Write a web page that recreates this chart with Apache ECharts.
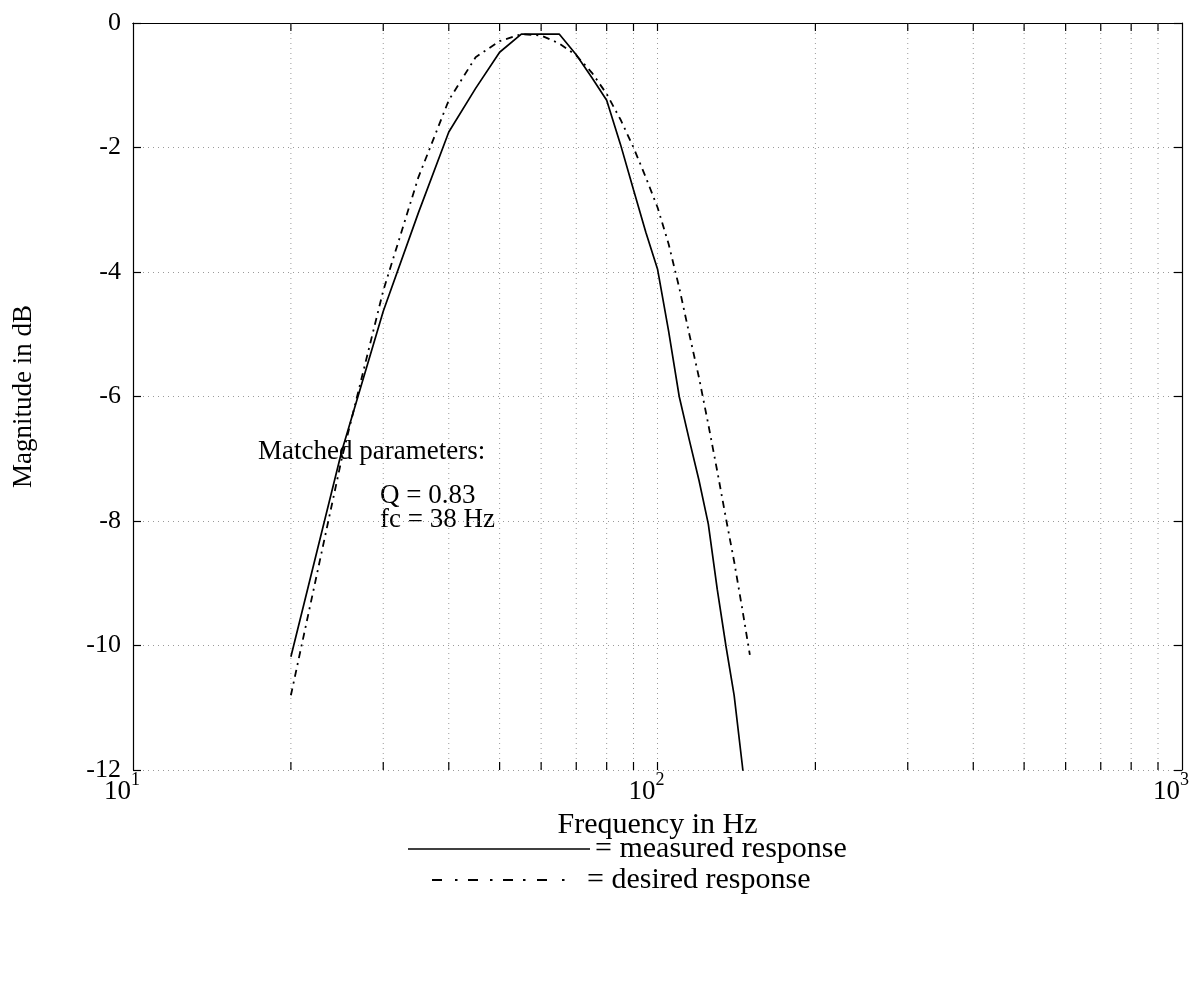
<!DOCTYPE html>
<html>
<head>
<meta charset="utf-8">
<script src="https://cdn.jsdelivr.net/npm/echarts@6.0.0/dist/echarts.min.js"></script>
<style>
  html, body { margin: 0; padding: 0; background: #fff; }
  #chart { width: 1197px; height: 988px; }
</style>
</head>
<body>
<div id="chart"></div>
<script>
// ---- data ----
const freqs = [20, 25, 30, 35, 40, 45, 50, 55, 60, 65, 70, 75, 80, 85, 90, 95, 100, 105, 110, 115, 120, 125, 130, 135, 140, 145, 150];
const measured = [-10.18, -6.88, -4.63, -3.05, -1.75, -1.05, -0.47, -0.18, -0.18, -0.18, -0.51, -0.88, -1.24, -1.95, -2.68, -3.36, -3.95, -4.95, -6.0, -6.7, -7.35, -8.05, -9.1, -10.0, -10.8, -11.9, -13.0];
const desired = [-10.8, -7.0, -4.3, -2.48, -1.24, -0.55, -0.29, -0.18, -0.2, -0.33, -0.52, -0.8, -1.14, -1.55, -2.0, -2.48, -2.96, -3.55, -4.25, -5.0, -5.7, -6.45, -7.2, -7.95, -8.65, -9.4, -10.15];
const xTickFreqs = [20, 30, 40, 50, 60, 70, 80, 90, 100, 200, 300, 400, 500, 600, 700, 800, 900];
const yTicks = [0, -2, -4, -6, -8, -10, -12];
const seriesNames = ['measured response', 'desired response'];

const FONT = 'Liberation Serif';
const gridColor = '#9a9a9a';

// legend sample shapes (dash-dot drawn as small filled rects)
const dashDotIcon = 'path://M0,0h10v2h-10z M23,0h2.5v2h-2.5z M36,0h10v2h-10z M58,0h2.5v2h-2.5z M71,0h10v2h-10z M91,0h2.5v2h-2.5z M105,0h10v2h-10z M130,0h2.5v2h-2.5z M150,0';

const chart = echarts.init(document.getElementById('chart'), null, { renderer: 'canvas' });

const axisBlack = { color: '#000', width: 1.2 };

const option = {
  backgroundColor: '#ffffff',
  animation: false,
  textStyle: { fontFamily: FONT, color: '#000' },
  grid: { left: 133, right: 15, top: 23, bottom: 218, containLabel: false },
  xAxis: [
    {
      type: 'log', logBase: 10, min: 10, max: 1000, position: 'bottom',
      name: 'Frequency in Hz', nameLocation: 'middle', nameGap: 37,
      nameTextStyle: { fontFamily: FONT, fontSize: 30, color: '#000' },
      axisLine: { show: true, lineStyle: axisBlack },
      axisTick: { show: false },
      splitLine: { show: false },
      axisLabel: {
        margin: 1,
        padding: [0, 22, 0, 0],
        formatter: v => '{b|10}{s|' + Math.round(Math.log10(v)) + '}',
        rich: {
          b: { fontFamily: FONT, fontSize: 27, color: '#000', padding: [7, 0, 0, 0] },
          s: { fontFamily: FONT, fontSize: 18, color: '#000', verticalAlign: 'top' }
        }
      }
    },
    {
      type: 'log', logBase: 10, min: 10, max: 1000, position: 'top',
      axisLine: { show: true, lineStyle: axisBlack },
      axisTick: { show: false },
      axisLabel: { show: false },
      splitLine: { show: false }
    }
  ],
  yAxis: [
    {
      type: 'value', min: -12, max: 0, interval: 2, position: 'left',
      name: 'Magnitude in dB', nameLocation: 'middle', nameGap: 96, nameRotate: 90,
      nameTextStyle: { fontFamily: FONT, fontSize: 27, color: '#000' },
      axisLine: { show: true, lineStyle: axisBlack },
      axisTick: { show: true, inside: true, length: 8, lineStyle: axisBlack },
      splitLine: { show: true, lineStyle: { color: gridColor, type: [1, 4], width: 1 } },
      axisLabel: { margin: 12, fontFamily: FONT, fontSize: 26, color: '#000',
        formatter: v => (yTicks.indexOf(v) >= 0 ? String(v) : '') }
    },
    {
      type: 'value', min: -12, max: 0, interval: 2, position: 'right',
      axisLine: { show: true, lineStyle: axisBlack },
      axisTick: { show: true, inside: true, length: 8, lineStyle: axisBlack },
      axisLabel: { show: false },
      splitLine: { show: false }
    }
  ],
  legend: [
    {
      data: [{ name: seriesNames[0], icon: 'rect' }], left: 403, top: 829, orient: 'horizontal',
      itemWidth: 182, itemHeight: 1.5,
      formatter: n => '= ' + n,
      textStyle: { fontFamily: FONT, fontSize: 30, color: '#000' },
      itemStyle: { color: '#000', borderWidth: 0 },
      selectedMode: false
    },
    {
      data: [{ name: seriesNames[1], icon: dashDotIcon }], left: 427, top: 860, orient: 'horizontal',
      itemWidth: 150, itemHeight: 2,
      formatter: n => '= ' + n,
      textStyle: { fontFamily: FONT, fontSize: 30, color: '#000' },
      itemStyle: { color: '#000', borderWidth: 0 },
      selectedMode: false
    }
  ],
  graphic: [
    { type: 'text', left: 258, top: 438, style: { text: 'Matched parameters:', font: '27px "Liberation Serif"', fill: '#000' } },
    { type: 'text', left: 380, top: 482, style: { text: 'Q = 0.83', font: '27px "Liberation Serif"', fill: '#000' } },
    { type: 'text', left: 380, top: 506, style: { text: 'fc = 38 Hz', font: '27px "Liberation Serif"', fill: '#000' } }
  ],
  series: [
    {
      type: 'custom', name: 'x grid and ticks', xAxisIndex: 0, yAxisIndex: 0, silent: true, z: 1,
      data: xTickFreqs.map(f => [f, -6]),
      renderItem: function (params, api) {
        const x = api.coord([api.value(0), -6])[0];
        const cs = params.coordSys;
        return {
          type: 'group',
          children: [
            { type: 'line', shape: { x1: x, y1: cs.y, x2: x, y2: cs.y + cs.height },
              style: { stroke: gridColor, lineWidth: 1, lineDash: [1, 4] } },
            { type: 'line', shape: { x1: x, y1: cs.y + cs.height, x2: x, y2: cs.y + cs.height - 8 },
              style: { stroke: '#000', lineWidth: 1.2 } },
            { type: 'line', shape: { x1: x, y1: cs.y, x2: x, y2: cs.y + 8 },
              style: { stroke: '#000', lineWidth: 1.2 } }
          ]
        };
      }
    },
    {
      type: 'line', name: seriesNames[0], xAxisIndex: 0, yAxisIndex: 0,
      data: freqs.map((f, i) => [f, measured[i]]),
      showSymbol: false, symbol: 'none', clip: true, z: 3,
      lineStyle: { color: '#000', width: 1.7, type: 'solid' },
      itemStyle: { color: '#000' }
    },
    {
      type: 'line', name: seriesNames[1], xAxisIndex: 0, yAxisIndex: 0,
      data: freqs.map((f, i) => [f, desired[i]]),
      showSymbol: false, symbol: 'none', clip: true, z: 3,
      lineStyle: { color: '#000', width: 1.8, type: [7, 5, 2, 5] },
      itemStyle: { color: '#000' }
    }
  ]
};

chart.setOption(option);
</script>
</body>
</html>
